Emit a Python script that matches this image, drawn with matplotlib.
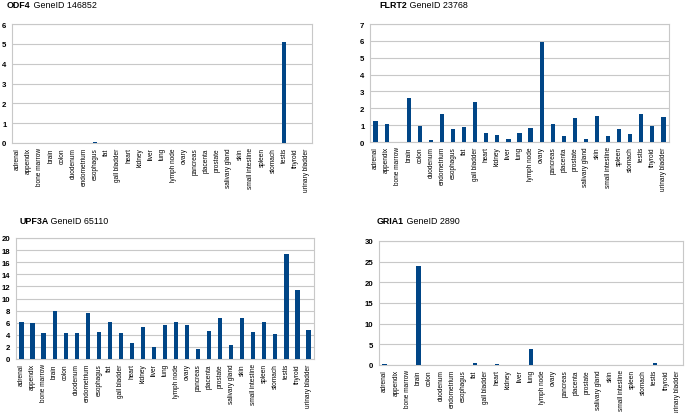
import numpy as np
import matplotlib
matplotlib.use("Agg")
import matplotlib.pyplot as plt

plt.rcParams['font.family'] = ['Liberation Sans Narrow', 'Liberation Sans', 'DejaVu Sans']

# tissues on the x axis (same for every panel)
tissues = ["adrenal", "appendix", "bone marrow", "brain", "colon", "duodenum",
           "endometrium", "esophagus", "fat", "gall bladder", "heart", "kidney",
           "liver", "lung", "lymph node", "ovary", "pancreas", "placenta",
           "prostate", "salivary gland", "skin", "small intestine", "spleen",
           "stomach", "testis", "thyroid", "urinary bladder"]

odf4 = [0, 0, 0, 0, 0, 0, 0, 0.06, 0, 0, 0, 0.01, 0, 0, 0, 0, 0, 0,
        0, 0, 0, 0, 0, 0, 5.1, 0, 0.01]
flrt2 = [1.26, 1.08, 0, 2.6, 0.97, 0.14, 1.66, 0.79, 0.91, 2.37, 0.53, 0.39,
         0.18, 0.55, 0.81, 5.92, 1.07, 0.37, 1.4, 0.2, 1.56, 0.36, 0.77, 0.47,
         1.66, 0.97, 1.48]
upf3a = [6.1, 5.95, 4.24, 7.93, 4.24, 4.35, 7.6, 4.46, 6.1, 4.35, 2.59, 5.29,
         2.04, 5.56, 6.1, 5.56, 1.6, 4.57, 6.72, 2.26, 6.72, 4.52, 6.1, 4.19,
         17.4, 11.4, 4.85]
gria1 = [0.2, 0.05, 0, 23.9, 0, 0.05, 0, 0, 0.4, 0, 0.25, 0, 0, 3.86, 0, 0.05,
         0, 0, 0, 0, 0, 0.05, 0, 0, 0.45, 0, 0]

W, H = 685, 414
fig = plt.figure(figsize=(W / 100, H / 100), dpi=100)

panels = [
    # gene, id, values, ymax, ystep, (left, top, right, bottom) px, title pos
    ("ODF4", "146852", odf4, 6, 1, (12, 25, 312, 144), (7, 6)),
    ("FLRT2", "23768", flrt2, 7, 1, (370, 25, 669, 143), (379, 6)),
    ("UPF3A", "65110", upf3a, 20, 2, (16, 239, 314, 360), (19, 221)),
    ("GRIA1", "2890", gria1, 30, 5, (379, 242, 683, 366), (377, 221)),
]

bar_col = "#004586"
grid_col = "#c8c8c8"
x = np.arange(len(tissues))

for gene, gid, vals, ymax, ystep, (l, t, r, b), (tx, ty) in panels:
    ax = fig.add_axes([l / W, 1 - b / H, (r - l) / W, (b - t) / H])
    ax.bar(x, vals, width=0.38, color=bar_col, zorder=3)
    ax.set_xlim(-0.5, len(tissues) - 0.5)
    ax.set_ylim(0, ymax)
    ax.set_yticks(np.arange(0, ymax + ystep / 2, ystep))
    ax.set_xticks(x)
    ax.set_xticklabels(tissues, rotation=90, fontsize=4.7)
    ax.tick_params(length=0, pad=3)
    ax.tick_params(axis='y', labelsize=5.6, pad=4)
    for lab in ax.get_yticklabels():
        lab.set_fontweight('bold')
    ax.yaxis.grid(True, color=grid_col, linewidth=0.8, zorder=0)
    for s in ax.spines.values():
        s.set_color(grid_col)
        s.set_linewidth(0.8)

    t1 = fig.text(tx / W, 1 - ty / H, gene, fontsize=6.4, fontweight='bold',
                  va='center', ha='left')
    ax.annotate(" GeneID " + gid, xy=(1, 0.5), xycoords=t1, va='center',
                ha='left', fontsize=6.4, annotation_clip=False)

fig.savefig("out.png", dpi=100)
